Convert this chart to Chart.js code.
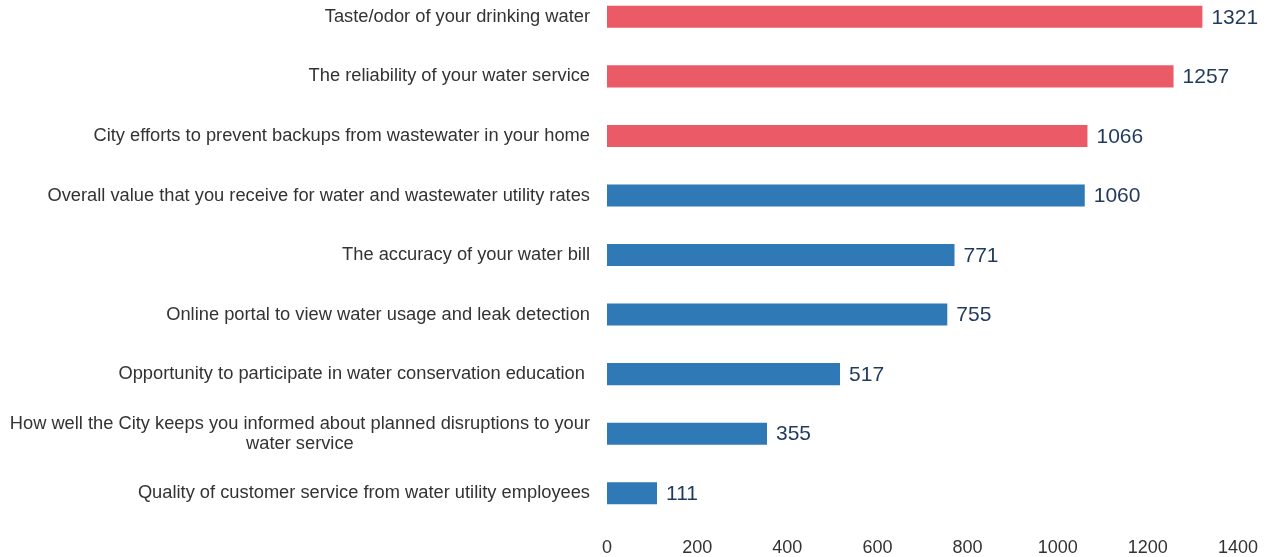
<!DOCTYPE html>
<html>
<head>
<meta charset="utf-8">
<script src="https://cdn.jsdelivr.net/npm/chart.js@4"></script>
<style>
  html, body { margin: 0; padding: 0; background: #fff; overflow: hidden; }
  #wrap { position: absolute; left: 0; top: -32px; width: 1268px; height: 589px; }
</style>
</head>
<body>
<div id="wrap"><canvas id="myChart"></canvas></div>
<script>
// Datos del gráfico
var categories = [
    'Taste/odor of your drinking water',
    'The reliability of your water service',
    'City efforts to prevent backups from wastewater in your home',
    'Overall value that you receive for water and wastewater utility rates',
    'The accuracy of your water bill',
    'Online portal to view water usage and leak detection',
    'Opportunity to participate in water conservation education ',
    ['How well the City keeps you informed about planned disruptions to your', 'water service'],
    'Quality of customer service from water utility employees'
];
var counts = [1321, 1257, 1066, 1060, 771, 755, 517, 355, 111];
var barColors = ['#EB5B67', '#EB5B67', '#EB5B67', '#2E79B6', '#2E79B6', '#2E79B6', '#2E79B6', '#2E79B6', '#2E79B6'];
var xTicks = [0, 200, 400, 600, 800, 1000, 1200, 1400];

var labelFont = '18.3px "Liberation Sans", Arial, sans-serif';
var labelColor = '#333333';

// Etiquetas de valor al final de cada barra
var valueLabels = {
    id: 'valueLabels',
    afterDatasetsDraw: function(chart) {
        var c = chart.ctx;
        var meta = chart.getDatasetMeta(0);
        c.save();
        c.font = '21px "Liberation Sans", Arial, sans-serif';
        c.fillStyle = '#1F3A5C';
        c.textAlign = 'left';
        c.textBaseline = 'middle';
        meta.data.forEach(function(bar, i) {
            c.fillText(String(counts[i]), bar.x + 9, bar.y + 1);
        });
        c.restore();
    }
};

// Etiquetas de varias líneas centradas entre sí (como en el original)
var multiLineLabels = {
    id: 'multiLineLabels',
    afterDraw: function(chart) {
        var c = chart.ctx;
        var yScale = chart.scales.y;
        var right = chart.chartArea.left - 17;
        c.save();
        c.font = labelFont;
        c.fillStyle = labelColor;
        c.textAlign = 'center';
        c.textBaseline = 'middle';
        categories.forEach(function(lab, i) {
            if (!Array.isArray(lab)) return;
            var w = Math.max.apply(null, lab.map(function(s) { return c.measureText(s).width; }));
            var cx = right - w / 2;
            var lh = 20;
            var y0 = yScale.getPixelForTick(i) - (lab.length - 1) * lh / 2;
            lab.forEach(function(s, k) { c.fillText(s, cx, y0 + k * lh); });
        });
        c.restore();
    }
};

var ctx = document.getElementById('myChart').getContext('2d');
var myChart = new Chart(ctx, {
    type: 'bar',
    data: {
        labels: categories,
        datasets: [{
            data: counts,
            backgroundColor: barColors,
            barPercentage: 0.37,
            categoryPercentage: 1
        }]
    },
    options: {
        indexAxis: 'y',
        responsive: true,
        maintainAspectRatio: false,
        animation: false,
        layout: { padding: { top: 0, right: 30, left: 0, bottom: 0 } },
        plugins: {
            legend: { display: false },
            tooltip: { enabled: false }
        },
        scales: {
            x: {
                min: 0,
                max: 1400,
                afterBuildTicks: function(axis) {
                    axis.ticks = xTicks.map(function(v) { return { value: v }; });
                },
                grid: { display: false },
                border: { display: false },
                ticks: {
                    color: labelColor,
                    padding: 6,
                    callback: function(v) { return String(v); },
                    font: { family: '"Liberation Sans", Arial, sans-serif', size: 18 }
                },
                afterFit: function(axis) { axis.height = 34; }
            },
            y: {
                grid: { display: false },
                border: { display: false },
                ticks: {
                    // las etiquetas de varias líneas se dibujan en el plugin
                    color: function(context) {
                        return Array.isArray(categories[context.index]) ? 'rgba(0,0,0,0)' : labelColor;
                    },
                    padding: 9,
                    font: { family: '"Liberation Sans", Arial, sans-serif', size: 18.3, lineHeight: 1.1 }
                },
                afterFit: function(axis) { axis.width = 607; }
            }
        }
    },
    plugins: [valueLabels, multiLineLabels]
});
</script>
</body>
</html>
